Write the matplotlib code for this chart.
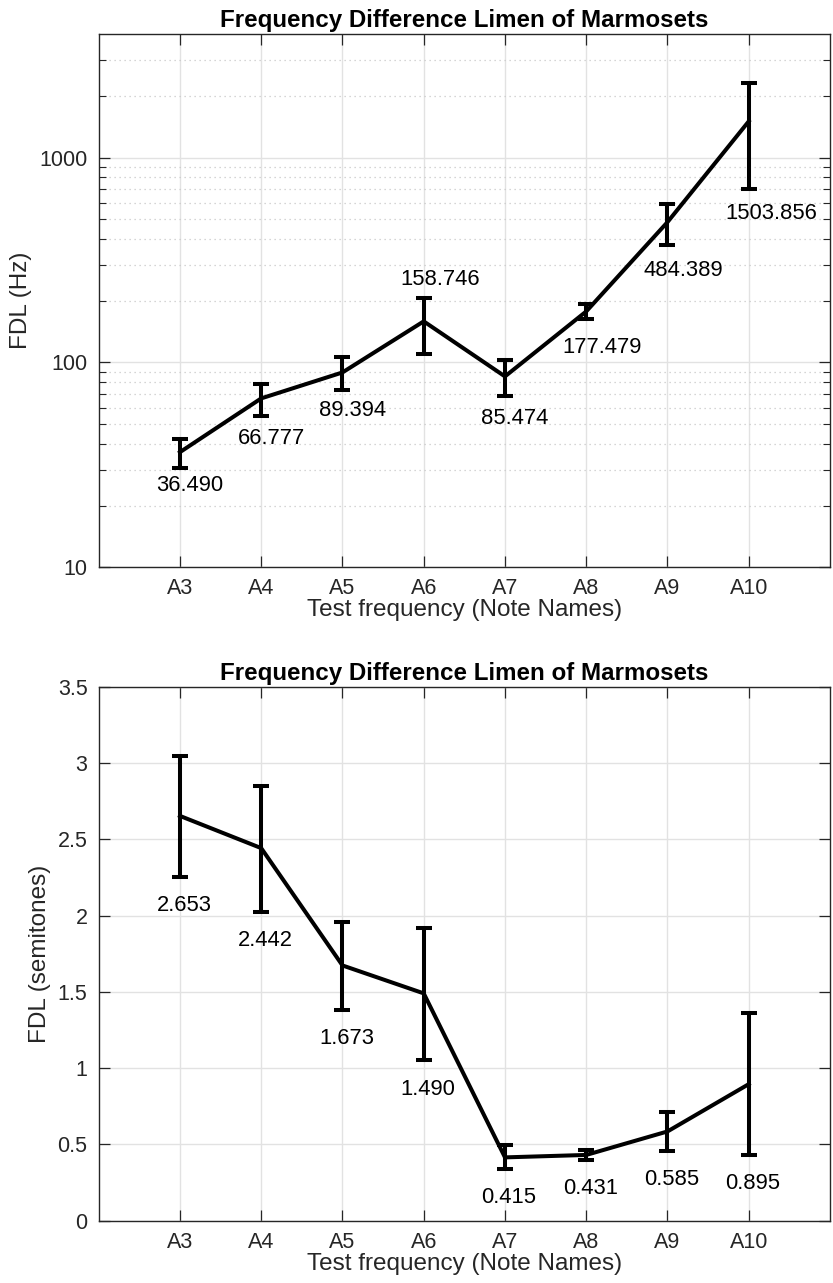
import matplotlib
matplotlib.use("Agg")
import matplotlib.pyplot as plt
from matplotlib.ticker import FixedLocator, FuncFormatter, NullFormatter
import numpy as np

# ---------------- data ----------------
notes = ["A3", "A4", "A5", "A6", "A7", "A8", "A9", "A10"]

fdl_hz = [36.490, 66.777, 89.394, 158.746, 85.474, 177.479, 484.389, 1503.856]
fdl_hz_low = [30.5, 54.5, 73.1, 110.4, 68.6, 163.2, 372.6, 705.0]
fdl_hz_high = [42.3, 78.8, 105.9, 206.8, 102.4, 193.2, 595.7, 2308.0]

fdl_semi = [2.653, 2.442, 1.673, 1.490, 0.415, 0.431, 0.585, 0.895]
fdl_semi_low = [2.254, 2.025, 1.381, 1.053, 0.339, 0.398, 0.459, 0.431]
fdl_semi_high = [3.043, 2.849, 1.959, 1.916, 0.498, 0.463, 0.714, 1.359]

# label gaps (pixels) from the error-bar end, top panel (negative = above)
hz_label_gap = [17, 22, 20, -18, 23, 29, 25, 25]

TXT = "#262626"
plt.rcParams["font.family"] = ["Liberation Sans", "DejaVu Sans"]
plt.rcParams["text.color"] = TXT
plt.rcParams["axes.labelcolor"] = TXT
plt.rcParams["xtick.color"] = TXT
plt.rcParams["ytick.color"] = TXT

FS = 15.5
LFS = 17.5
W, H = 833, 1283
fig = plt.figure(figsize=(W / 100, H / 100), dpi=100)

def frac(l, t, r, b):
    return [l / W, 1 - b / H, (r - l) / W, (b - t) / H]

ax1 = fig.add_axes(frac(98.7, 34.3, 830, 567.3))
ax2 = fig.add_axes(frac(98.7, 686.7, 830, 1220.7))

x = np.arange(1, len(notes) + 1)

def style(ax):
    for s in ax.spines.values():
        s.set_color(TXT)
        s.set_linewidth(1.0)
    ax.set_xlim(0, len(notes) + 1)
    ax.set_xticks(x)
    ax.set_xticklabels(notes)
    ax.tick_params(which="major", direction="in", length=8, width=0.9,
                   top=True, right=True, labelsize=FS, pad=8)
    ax.tick_params(which="minor", direction="in", length=5, width=0.8,
                   top=False, right=True, left=True, bottom=False)
    ax.grid(True, which="major", color="#e2e2e2", linewidth=1.0)
    ax.set_axisbelow(True)
    ax.set_xlabel("Test frequency (Note Names)", fontsize=LFS, labelpad=0)
    ax.set_title("Frequency Difference Limen of Marmosets", fontsize=17.4,
                 fontweight="bold", color="black", pad=5)

# ---------------- top panel ----------------
y1 = np.array(fdl_hz)
err1 = [y1 - np.array(fdl_hz_low), np.array(fdl_hz_high) - y1]
ax1.errorbar(x, y1, yerr=err1, color="black", linewidth=2.9,
             elinewidth=2.9, capsize=5.5, capthick=2.9, zorder=3)
ax1.set_yscale("log")
ax1.set_ylim(10, 4000)
ax1.yaxis.set_major_locator(FixedLocator([10, 100, 1000]))
ax1.yaxis.set_major_formatter(FuncFormatter(lambda v, p: f"{v:g}"))
minors = [m * d for d in (10, 100, 1000) for m in range(2, 10) if m * d < 4000]
ax1.yaxis.set_minor_locator(FixedLocator(minors))
ax1.yaxis.set_minor_formatter(NullFormatter())
style(ax1)
ax1.grid(True, which="minor", axis="y", color="#c8c8c8", linestyle=(0, (1, 3)),
         linewidth=0.9)
ax1.set_ylabel("FDL (Hz)", fontsize=LFS, labelpad=5)

for xi, v, lo, hi, gap in zip(x, fdl_hz, fdl_hz_low, fdl_hz_high, hz_label_gap):
    anchor = lo if gap > 0 else hi
    ax1.annotate(f"{v:.3f}", xy=(xi, anchor), xytext=(-23.5, -gap),
                 textcoords="offset pixels", ha="left", va="center",
                 fontsize=FS + 0.3, color="black")

# ---------------- bottom panel ----------------
y2 = np.array(fdl_semi)
err2 = [y2 - np.array(fdl_semi_low), np.array(fdl_semi_high) - y2]
ax2.errorbar(x, y2, yerr=err2, color="black", linewidth=2.9,
             elinewidth=2.9, capsize=5.5, capthick=2.9, zorder=3)
ax2.set_ylim(0, 3.5)
ax2.yaxis.set_major_locator(FixedLocator(np.arange(0, 3.51, 0.5)))
ax2.yaxis.set_major_formatter(FuncFormatter(lambda v, p: f"{v:g}"))
style(ax2)
ax2.set_ylabel("FDL (semitones)", fontsize=LFS, labelpad=5)

for xi, v, lo in zip(x, fdl_semi, fdl_semi_low):
    ax2.annotate(f"{v:.3f}", xy=(xi, lo), xytext=(-23.5, -29),
                 textcoords="offset pixels", ha="left", va="center",
                 fontsize=FS + 0.3, color="black")

fig.savefig("out.png", dpi=100)
